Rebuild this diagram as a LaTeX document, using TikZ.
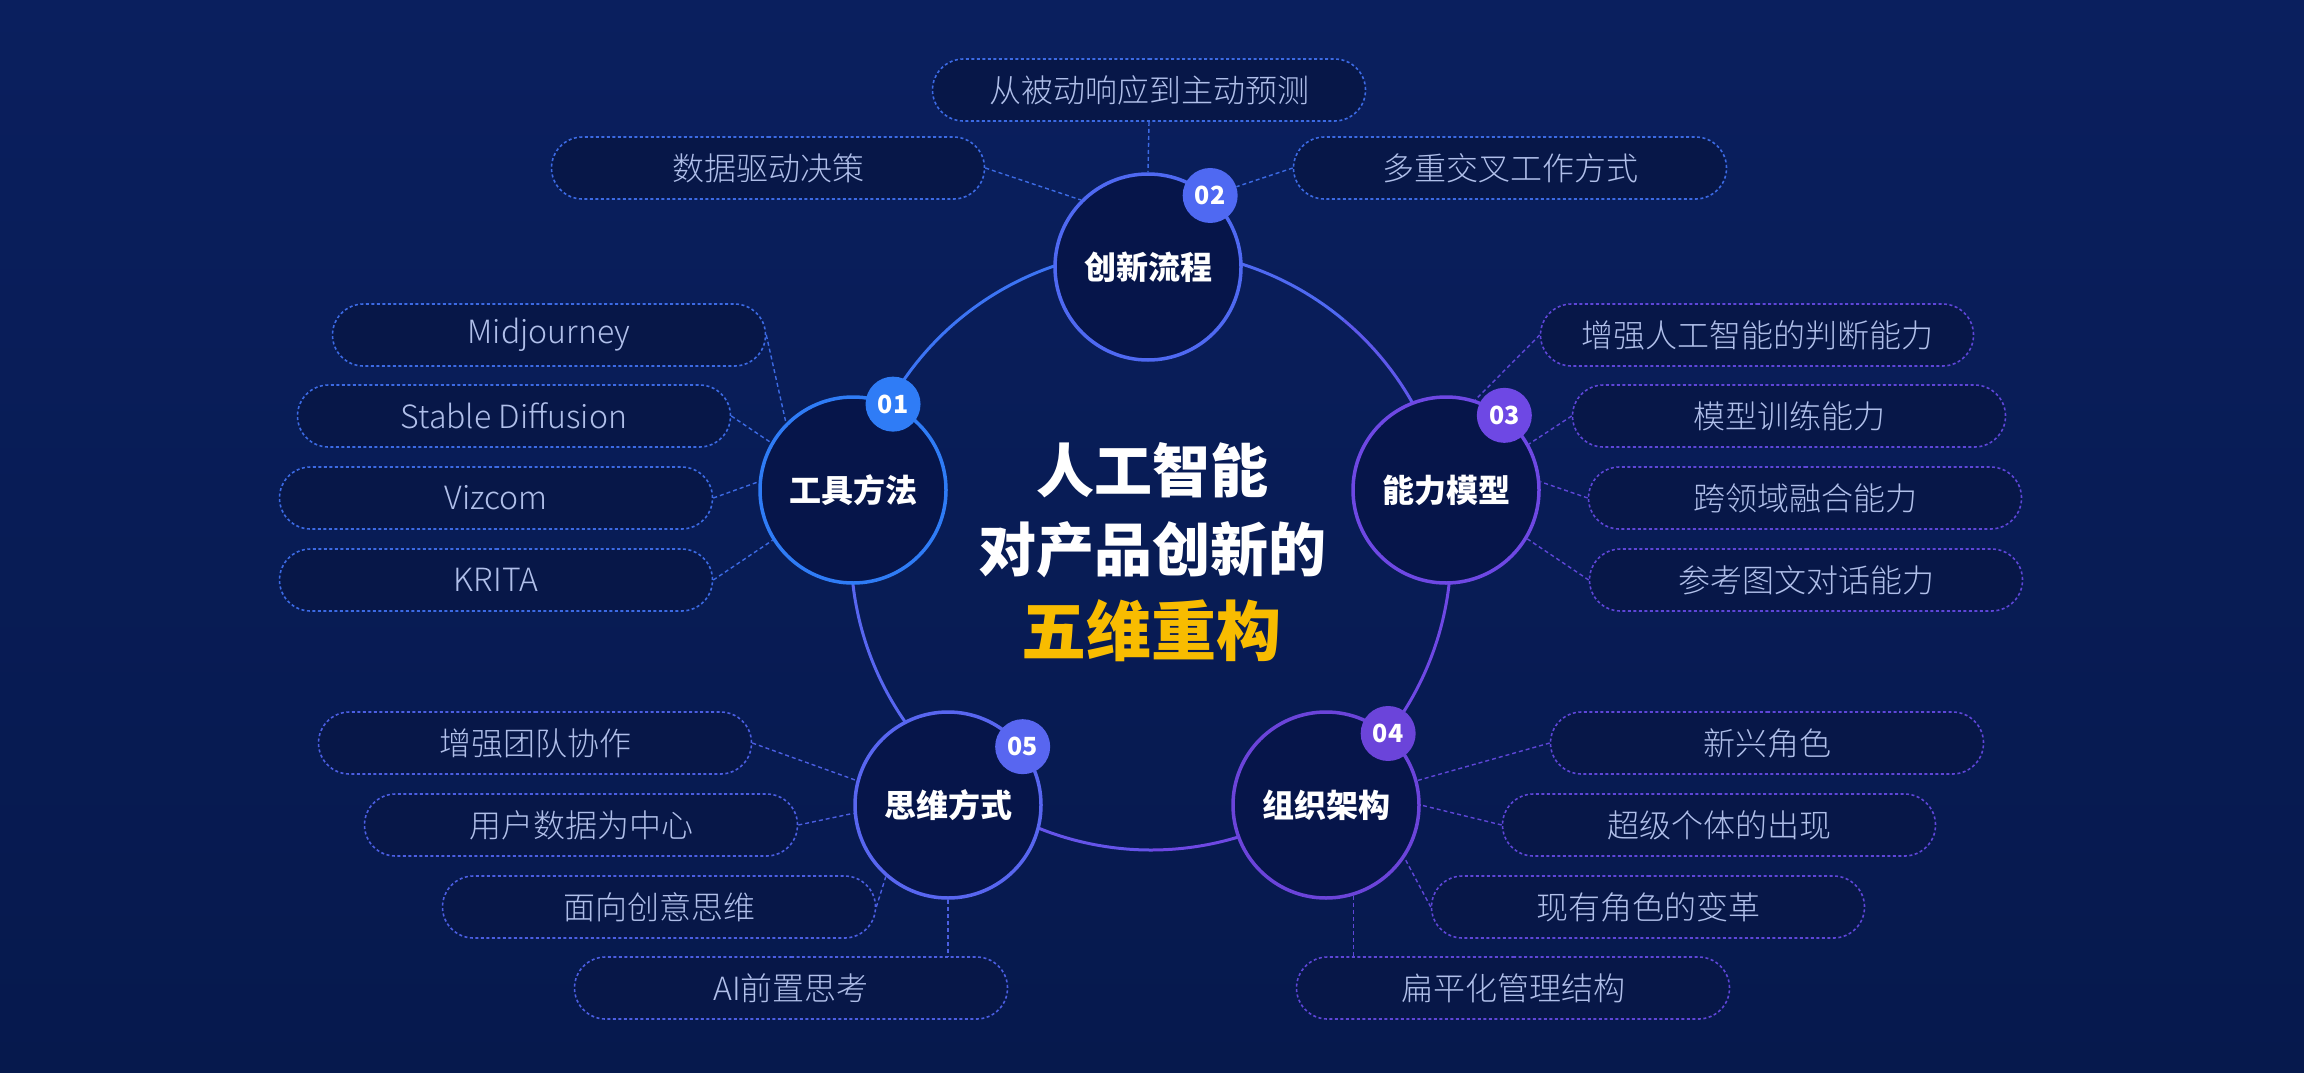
\documentclass[tikz,border=0pt]{standalone}
\usepackage{fontspec}
\setmainfont{Noto Sans CJK SC}
\IfFontExistsTF{Noto Sans CJK SC Light}
  {\newfontfamily\pillfont{Noto Sans CJK SC Light}}
  {\IfFontExistsTF{Noto Sans CJK SC DemiLight}
    {\newfontfamily\pillfont{Noto Sans CJK SC DemiLight}}
    {\newfontfamily\pillfont{Noto Sans CJK SC}}}
\usetikzlibrary{positioning,shapes.misc}

\definecolor{bgtop}{HTML}{0A1F5E}
\definecolor{bgbot}{HTML}{06194D}
\definecolor{discfill}{HTML}{06154A}
\definecolor{pillfill}{HTML}{071748}
\definecolor{pilltext}{HTML}{B0BFEA}
\definecolor{cblue}{HTML}{2F7CF6}
\definecolor{cindigo}{HTML}{4F69F2}
\definecolor{cviolet}{HTML}{6E48E4}
\definecolor{cpurple}{HTML}{6B44DA}
\definecolor{cperi}{HTML}{5866F0}
\definecolor{dashblue}{HTML}{3C6AE4}
\definecolor{dashperi}{HTML}{4B5EE2}
\definecolor{dashpurple}{HTML}{5E46D8}
\definecolor{titleyellow}{HTML}{F8BC00}

\begin{document}
\begin{tikzpicture}[x=1pt,y=-1pt,
	topic/.style={circle,line width=3.5pt,fill=discfill,minimum size=186pt,inner sep=0pt,text=white,font=\fontsize{32}{36}\selectfont\bfseries},
	badge/.style={circle,minimum size=55pt,inner sep=0pt,text=white,font=\fontsize{25}{28}\selectfont\bfseries},
	pill/.style={rounded rectangle,draw,dash pattern=on 3pt off 2.5pt,line width=1.6pt,fill=pillfill,minimum width=433pt,minimum height=62pt,inner sep=0pt,text=pilltext,font=\fontsize{32}{36}\pillfont},
	link/.style={dash pattern=on 4pt off 3pt,line width=1.4pt},
	ring/.style={line width=3pt},
	headline/.style={text=white,font=\fontsize{58}{64}\selectfont\bfseries}]
	\shade[top color=bgtop,bottom color=bgbot] (0,0) rectangle (2304,1073);

	% ring behind the five topics
	\coordinate (hub) at (1151,550);
	\draw[ring,color=cblue!60!cindigo] (hub) ++(191:300) arc[start angle=191,end angle=270,radius=300];
	\draw[ring,color=cindigo] (hub) ++(270:300) arc[start angle=270,end angle=310,radius=300];
	\draw[ring,color=cindigo!50!cviolet] (hub) ++(310:300) arc[start angle=310,end angle=350,radius=300];
	\draw[ring,color=cviolet] (hub) ++(350:300) arc[start angle=350,end angle=450,radius=300];
	\draw[ring,color=cviolet!60!cperi] (hub) ++(450:300) arc[start angle=450,end angle=488,radius=300];
	\draw[ring,color=cperi] (hub) ++(488:300) arc[start angle=488,end angle=551,radius=300];

	% topics
	\node[topic,draw=cblue] (c01) at (853,490) {工具方法};
	\node[topic,draw=cindigo] (c02) at (1148,267) {创新流程};
	\node[topic,draw=cviolet] (c03) at (1446,490) {能力模型};
	\node[topic,draw=cpurple] (c04) at (1326,805) {组织架构};
	\node[topic,draw=cperi] (c05) at (948,805) {思维方式};

	\node[badge,fill=cblue] (b01) at (c01.65) {01};
	\node[badge,fill=cindigo] (b02) at (c02.49) {02};
	\node[badge,fill=cviolet] (b03) at (c03.52) {03};
	\node[badge,fill=cpurple] (b04) at (c04.49) {04};
	\node[badge,fill=cperi] (b05) at (c05.38) {05};

	% 02
	\node[pill,draw=dashblue] (p21) at (1149,90) {从被动响应到主动预测};
	\node[pill,draw=dashblue] (p22) at (768,168) {数据驱动决策};
	\node[pill,draw=dashblue] (p23) at (1510,168) {多重交叉工作方式};
	% 01
	\node[pill,draw=dashblue] (p11) at (549,335) {Midjourney};
	\node[pill,draw=dashblue] (p12) at (514,416) {Stable Diffusion};
	\node[pill,draw=dashblue] (p13) at (496,498) {Vizcom};
	\node[pill,draw=dashblue] (p14) at (496,580) {KRITA};
	% 03
	\node[pill,draw=dashpurple] (p31) at (1757,335) {增强人工智能的判断能力};
	\node[pill,draw=dashpurple] (p32) at (1789,416) {模型训练能力};
	\node[pill,draw=dashpurple] (p33) at (1805,498) {跨领域融合能力};
	\node[pill,draw=dashpurple] (p34) at (1806,580) {参考图文对话能力};
	% 05
	\node[pill,draw=dashperi] (p51) at (535,743) {增强团队协作};
	\node[pill,draw=dashperi] (p52) at (581,825) {用户数据为中心};
	\node[pill,draw=dashperi] (p53) at (659,907) {面向创意思维};
	\node[pill,draw=dashperi] (p54) at (791,988) {AI前置思考};
	% 04
	\node[pill,draw=dashpurple] (p41) at (1767,743) {新兴角色};
	\node[pill,draw=dashpurple] (p42) at (1719,825) {超级个体的出现};
	\node[pill,draw=dashpurple] (p43) at (1648,907) {现有角色的变革};
	\node[pill,draw=dashpurple] (p44) at (1513,988) {扁平化管理结构};

	\draw[link,dashblue] (p21.south) -- (c02.north);
	\draw[link,dashblue] (p22.east) -- (c02.135);
	\draw[link,dashblue] (p23.west) -- (b02);

	\draw[link,dashblue] (p11.east) -- (c01.135);
	\draw[link,dashblue] (p12.east) -- (c01.150);
	\draw[link,dashblue] (p13.east) -- (c01.175);
	\draw[link,dashblue] (p14.east) -- (c01.212);

	\draw[link,dashpurple] (p31.west) -- (c03.72);
	\draw[link,dashpurple] (p32.west) -- (c03.29);
	\draw[link,dashpurple] (p33.west) -- (c03.5);
	\draw[link,dashpurple] (p34.west) -- (c03.329);

	\draw[link,dashperi] (p51.east) -- (c05.165);
	\draw[link,dashperi] (p52.east) -- (c05.185);
	\draw[link,dashperi] (p53.east) -- (c05.229);
	\draw[link,dashperi] (c05.south) -- (c05.south |- p54.north);

	\draw[link,dashpurple] (p41.west) -- (c04.15);
	\draw[link,dashpurple] (p42.west) -- (c04.0);
	\draw[link,dashpurple] (p43.west) -- (c04.326);
	\draw[link,dashpurple] (c04.287) -- (c04.287 |- p44.north);

	% title
	\node[headline] (t1) at (1152,470) {人工智能};
	\node[headline] (t2) at (1152,550) {对产品创新的};
	\node[headline,text=titleyellow,font=\fontsize{65}{70}\selectfont\bfseries] (t3) at (1151,631) {五维重构};
\end{tikzpicture}
\end{document}
